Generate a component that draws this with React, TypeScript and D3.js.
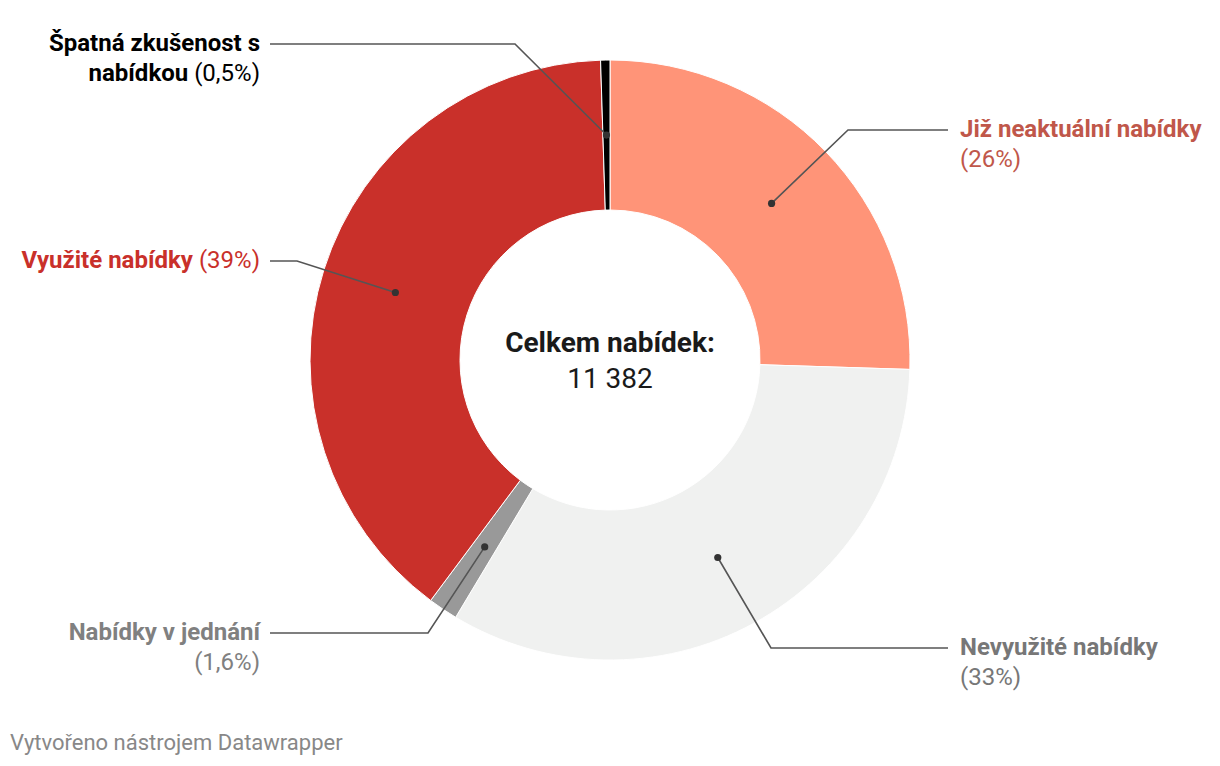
import React from "react";
import * as d3 from "d3";

const categories = [
  "Již neaktuální nabídky",
  "Nevyužité nabídky",
  "Nabídky v jednání",
  "Využité nabídky",
  "Špatná zkušenost s nabídkou",
];
const values = [25.5, 33.1, 1.6, 39.3, 0.5];
const valueLabels = ["26%", "33%", "1,6%", "39%", "0,5%"];
const sliceColors = ["#ff9478", "#f0f1f0", "#999999", "#c9302a", "#000000"];
const textColors = ["#c0574a", "#777777", "#808080", "#c9302a", "#000000"];
const labelLines: string[][] = [
  ["Již neaktuální nabídky"],
  ["Nevyužité nabídky"],
  ["Nabídky v jednání"],
  ["Využité nabídky"],
  ["Špatná zkušenost s", "nabídkou"],
];
const totalLabel = "Celkem nabídek:";
const totalValue = "11 382";
const footer = "Vytvořeno nástrojem Datawrapper";

const W = 1220;
const H = 766;
const cx = 610;
const cy = 360;
const R = 300;
const r0 = 150;

const layout = [
  { side: "right", elbowX: 848, lineY: 130, endX: 948, textX: 960, pctInline: false },
  { side: "right", elbowX: 771, lineY: 648, endX: 948, textX: 960, pctInline: false },
  { side: "left", elbowX: 428, lineY: 633, endX: 270, textX: 260, pctInline: false },
  { side: "left", elbowX: 297, lineY: 261, endX: 270, textX: 260, pctInline: true },
  { side: "left", elbowX: 515, lineY: 44, endX: 270, textX: 260, pctInline: true },
];

export default function App() {
  const pie = d3.pie<number>().sort(null).value((d) => d)(values);
  const arc = d3.arc<d3.PieArcDatum<number>>().innerRadius(r0).outerRadius(R);
  const mid = (R + r0) / 2;
  const font = "Roboto, sans-serif";
  const fs = 24;
  return (
    <svg
      width={W}
      height={H}
      style={{ position: "fixed", left: 0, top: 0, background: "#fff" }}
      fontFamily={font}
    >
      <g transform={`translate(${cx},${cy})`}>
        {pie.map((p, i) => (
          <path key={i} d={arc(p) || ""} fill={sliceColors[i]} stroke="#fff" strokeWidth={1} />
        ))}
      </g>
      {pie.map((p, i) => {
        const a = (p.startAngle + p.endAngle) / 2;
        const px = cx + mid * Math.sin(a);
        const py = cy - mid * Math.cos(a);
        const L = layout[i];
        return (
          <g key={"l" + i}>
            <polyline
              points={`${px},${py} ${L.elbowX},${L.lineY} ${L.endX},${L.lineY}`}
              fill="none"
              stroke="#555"
              strokeWidth={1.6}
            />
            <circle cx={px} cy={py} r={3.6} fill="#333" />
          </g>
        );
      })}
      {layout.map((L, i) => {
        const anchor = L.side === "left" ? "end" : "start";
        const lines = labelLines[i];
        const pct = `(${valueLabels[i]})`;
        const y0 = L.lineY + 7;
        const lh = 30;
        const col = textColors[i];
        if (L.pctInline) {
          return (
            <text key={"t" + i} x={L.textX} y={y0} textAnchor={anchor} fill={col} fontSize={fs}>
              {lines.map((ln, j) =>
                j < lines.length - 1 ? (
                  <tspan key={j} x={L.textX} dy={j === 0 ? 0 : lh} fontWeight={700}>
                    {ln}
                  </tspan>
                ) : (
                  <tspan key={j} x={L.textX} dy={j === 0 ? 0 : lh}>
                    <tspan fontWeight={700}>{ln}</tspan>
                    <tspan> {pct}</tspan>
                  </tspan>
                )
              )}
            </text>
          );
        }
        return (
          <text key={"t" + i} x={L.textX} y={y0} textAnchor={anchor} fill={col} fontSize={fs}>
            <tspan x={L.textX} fontWeight={700}>
              {lines[0]}
            </tspan>
            <tspan x={L.textX} dy={lh}>
              {pct}
            </tspan>
          </text>
        );
      })}
      <text x={cx} y={352} textAnchor="middle" fontSize={28} fontWeight={700} fill="#1a1a1a">
        {totalLabel}
      </text>
      <text x={cx} y={388} textAnchor="middle" fontSize={28} fill="#1a1a1a">
        {totalValue}
      </text>
      <text x={10} y={750} fontSize={22} fill="#888">
        {footer}
      </text>
    </svg>
  );
}
